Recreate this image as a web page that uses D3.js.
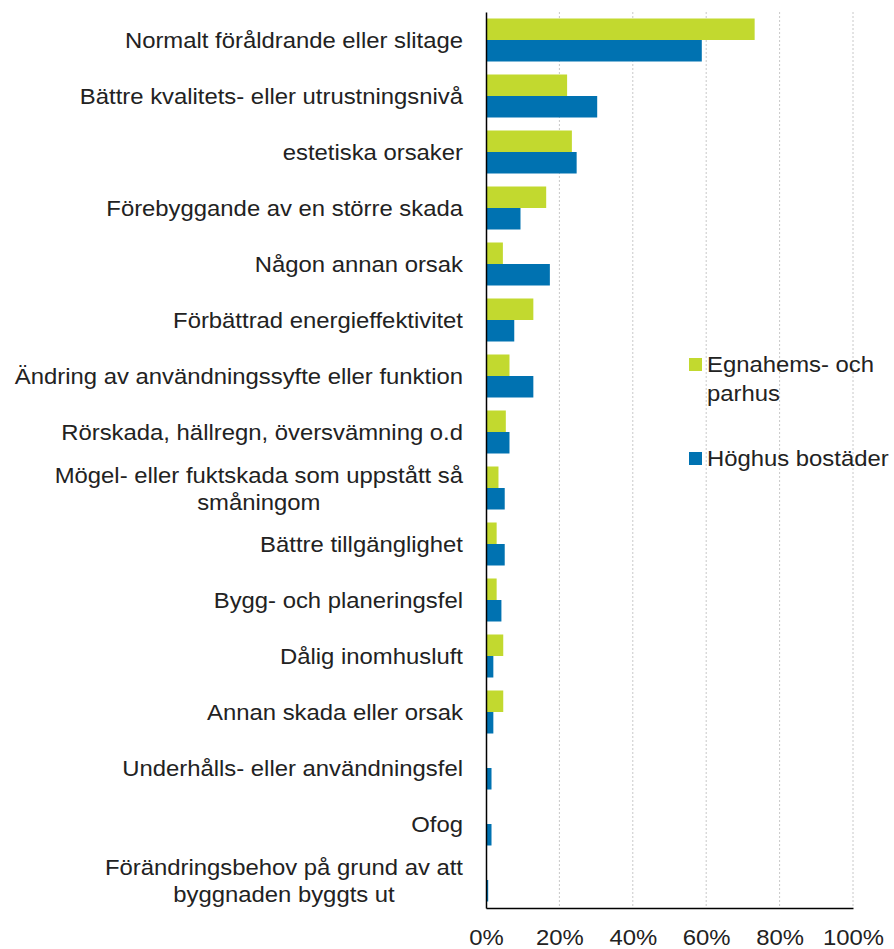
<!DOCTYPE html>
<html><head><meta charset="utf-8">
<script src="https://cdn.jsdelivr.net/npm/d3@7"></script>
<style>body{margin:0;background:#fff}svg{display:block}text{font-family:"Liberation Sans",Arial,sans-serif;fill:#222}</style>
</head><body>
<svg id="c" width="894" height="949"></svg>
<script>
const categories = [
  ["Normalt föråldrande eller slitage"],
  ["Bättre kvalitets- eller utrustningsnivå"],
  ["estetiska orsaker"],
  ["Förebyggande av en större skada"],
  ["Någon annan orsak"],
  ["Förbättrad energieffektivitet"],
  ["Ändring av användningssyfte eller funktion"],
  ["Rörskada, hällregn, översvämning o.d"],
  ["Mögel- eller fuktskada som uppstått så", "småningom"],
  ["Bättre tillgänglighet"],
  ["Bygg- och planeringsfel"],
  ["Dålig inomhusluft"],
  ["Annan skada eller orsak"],
  ["Underhålls- eller användningsfel"],
  ["Ofog"],
  ["Förändringsbehov på grund av att", "byggnaden byggts ut"]
];
const seriesNames = ["Egnahems- och parhus", "Höghus bostäder"];
const egnahem = [73.2, 22.1, 23.4, 16.4, 4.6, 12.9, 6.4, 5.4, 3.4, 2.9, 2.9, 4.7, 4.7, 0, 0, 0];
const hoghus  = [58.8, 30.3, 24.7, 9.4, 17.4, 7.7, 12.9, 6.4, 5.1, 5.1, 4.2, 2.0, 2.0, 1.5, 1.5, 0.6];
const ticks = [0, 20, 40, 60, 80, 100];
const colors = ["#c2d92f", "#0072b1"];

const svg = d3.select("#c");
const x0 = 486, x1 = 853, yTop = 12, yBot = 908;
const fs = 22, sx = 1.085;
const x = d3.scaleLinear().domain([0, 100]).range([x0, x1]);
const keys = categories.map((c, i) => i);
const y = d3.scaleBand().domain(keys).range([yTop, yBot]).padding(0);
const sub = d3.scaleBand().domain([0, 1]).range([6.5, y.bandwidth() - 6.5]).padding(0);

// gridlines
svg.append("g").selectAll("line").data(ticks.slice(1)).join("line")
  .attr("x1", d => x(d)).attr("x2", d => x(d))
  .attr("y1", yTop).attr("y2", yBot)
  .attr("stroke", "#c8c8c8").attr("stroke-width", 1).attr("stroke-dasharray", "2,2");

// bars
const series = [egnahem, hoghus];
series.forEach((vals, s) => {
  svg.append("g").selectAll("rect").data(vals).join("rect")
    .attr("x", x(0))
    .attr("y", (d, i) => y(i) + sub(s))
    .attr("width", d => x(d) - x(0))
    .attr("height", sub.bandwidth())
    .attr("fill", colors[s]);
});

// axes
const xAxis = d3.axisBottom(x).tickValues(ticks).tickFormat(d => d + "%").tickSize(0).tickPadding(0);
const gx = svg.append("g").attr("transform", `translate(0,${yBot})`).call(xAxis);
gx.select(".domain").attr("stroke", "#000").attr("stroke-width", 1.5);
gx.selectAll(".tick text").attr("font-size", fs).attr("fill", "#222").attr("dy", null)
  .attr("y", null)
  .attr("transform", `translate(0,37) scale(${sx},1)`)
  .style("font-family", '"Liberation Sans",Arial,sans-serif');

const yAxis = d3.axisLeft(y).tickSize(0).tickFormat(() => "");
const gy = svg.append("g").attr("transform", `translate(${x0},0)`).call(yAxis);
gy.select(".domain").attr("stroke", "#000").attr("stroke-width", 1.5);

// category labels
const lab = svg.append("g");
const half = 13.5;
categories.forEach((lines, i) => {
  const cy = y(i) + y.bandwidth() / 2;
  const by = cy + fs * 0.38 - (lines.length - 1) * half;
  const t = lab.append("text").attr("font-size", fs).attr("text-anchor", "end")
    .attr("transform", `translate(463,${by}) scale(${sx},1)`);
  t.text(lines[0]);
  if (lines.length > 1) {
    const w = t.node().getComputedTextLength() * sx;
    lab.append("text").attr("font-size", fs).attr("text-anchor", "middle")
      .attr("transform", `translate(${463 - w / 2},${by + 2 * half}) scale(${sx},1)`).text(lines[1]);
  }
});

// legend
const leg = svg.append("g");
const legItems = [[["Egnahems- och", "parhus"], 358], [["Höghus bostäder"], 452]];
legItems.forEach(([lines, ty], s) => {
  leg.append("rect").attr("x", 689).attr("y", ty).attr("width", 13).attr("height", 13).attr("fill", colors[s]);
  lines.forEach((ln, j) => {
    leg.append("text").attr("font-size", fs)
      .attr("transform", `translate(707,${ty + 14 + j * 28.5}) scale(${sx},1)`).text(ln);
  });
});
</script>
</body></html>
